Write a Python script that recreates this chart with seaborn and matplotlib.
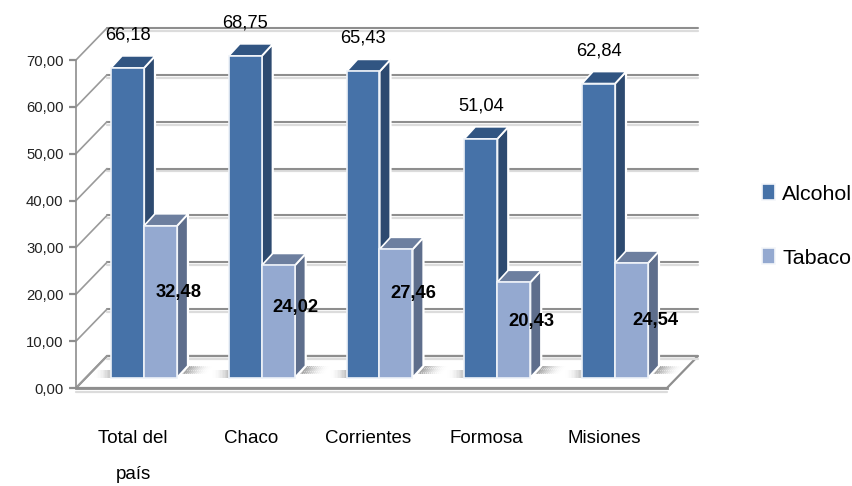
#!/usr/bin/env python3
"""Alcohol / tabaco por provincia, barras con falso 3D al estilo Excel."""

import pandas as pd
import seaborn as sns
import matplotlib
matplotlib.use("Agg")
import matplotlib.pyplot as plt
from matplotlib.patches import Polygon

CATEGORIES = ["Total del\npaís", "Chaco", "Corrientes", "Formosa", "Misiones"]
ALCOHOL = [66.18, 68.75, 65.43, 51.04, 62.84]
TABACO = [32.48, 24.02, 27.46, 20.43, 24.54]
Y_TICKS = [0, 10, 20, 30, 40, 50, 60, 70]

W, H = 852, 486
FONT = ["Liberation Sans", "DejaVu Sans"]

# pixel layout of the fake 3D box
LEFT, RIGHT, BOTTOM, TOP = 76, 667, 388, 60
WALL_DX, WALL_DY = 31, 32
BAR_DX, BAR_DY = 11, 10      # bars sit this far inside the floor
DEPTH_X, DEPTH_Y = 11, 12    # depth of each bar

# tabaco labels were dragged by hand in the original: offset from the bar top (px)
TABACO_LABEL_OFFSET = [(18, -67), (17, -42), (17, -44), (18, -39), (24, -57)]

COLORS = {
    "Alcohol": ("#4672A8", "#315582", "#2D4A70"),
    "Tabaco": ("#94A9D0", "#6D7F9F", "#5E6E8C"),
}
GRID = "#8E8E8E"
GRID_SHADOW = "#DCDCDC"


def main():
    sns.set_theme(style="white")
    plt.rcParams["font.family"] = FONT

    df = pd.DataFrame({
        "region": CATEGORIES * 2,
        "serie": ["Alcohol"] * 5 + ["Tabaco"] * 5,
        "valor": ALCOHOL + TABACO,
    })

    fig = plt.figure(figsize=(W / 100, H / 100), dpi=100)
    box = [LEFT / W, (H - BOTTOM) / H, (RIGHT - LEFT) / W, (BOTTOM - TOP) / H]
    ax = fig.add_axes(box)
    ax_bars = fig.add_axes([box[0] + BAR_DX / W, box[1] + BAR_DY / H, box[2], box[3]])

    xlim = (-0.484, 4.535)
    px_x = (xlim[1] - xlim[0]) / (RIGHT - LEFT)
    px_y = 70 / (BOTTOM - TOP)

    # ── Walls and floor ───────────────────────────────────────────────
    ax.set_xlim(xlim)
    ax.set_ylim(0, 70)
    wx, wy = WALL_DX * px_x, WALL_DY * px_y
    floor = [(xlim[0], 0), (xlim[1], 0), (xlim[1] + wx, wy), (xlim[0] + wx, wy)]
    ax.add_patch(Polygon(floor, closed=True, fc="white", ec=GRID, lw=1.6, clip_on=False))
    ax.plot([xlim[0], xlim[1]], [-0.9, -0.9], color=GRID_SHADOW, lw=1.6, clip_on=False)
    for v in Y_TICKS:
        ax.plot([xlim[0] + wx, xlim[1] + wx], [v + wy - 0.6] * 2, color=GRID_SHADOW,
                lw=1.6, clip_on=False, zorder=1)
        ax.plot([xlim[0] + wx, xlim[1] + wx], [v + wy] * 2, color=GRID,
                lw=1.5, clip_on=False, zorder=1.1)
        ax.plot([xlim[0], xlim[0] + wx], [v, v + wy], color="#9A9A9A",
                lw=1.2, clip_on=False, zorder=1.1)

    sns.despine(ax=ax, top=True, right=True)
    for side in ("left", "bottom"):
        ax.spines[side].set_color(GRID)
    ax.spines["left"].set_linewidth(1.2)
    ax.spines["bottom"].set_linewidth(2)
    ax.set_yticks(Y_TICKS)
    ax.set_yticklabels([f"{v:.2f}".replace(".", ",") for v in Y_TICKS], fontsize=10.7, color="#222222")
    ax.tick_params(axis="y", length=5, width=1.6, color=GRID, pad=4, left=True)
    ax.set_xticks(range(len(CATEGORIES)))
    ax.set_xticklabels(CATEGORIES, fontsize=13.5, color="black", linespacing=2.45)
    ax.tick_params(axis="x", length=0, pad=30)
    ax.set_xlabel("")
    ax.set_ylabel("")

    # ── Bars ───────────────────────────────────────────────────────────
    sns.barplot(data=df, x="region", y="valor", hue="serie", order=CATEGORIES,
                palette={k: v[0] for k, v in COLORS.items()}, width=0.56, gap=0,
                saturation=1, edgecolor="#EEF2F8", linewidth=1.2, ax=ax_bars)
    ax_bars.set_xlim(xlim)
    ax_bars.set_ylim(0, 70)
    ax_bars.patch.set_alpha(0)
    ax_bars.set_axis_off()

    dx, dy = DEPTH_X * px_x, DEPTH_Y * px_y
    for s, (serie, container) in enumerate(zip(COLORS, ax_bars.containers)):
        _, top_c, side_c = COLORS[serie]
        z = 3 + s
        for i, bar in enumerate(container):
            x0, x1, h = bar.get_x(), bar.get_x() + bar.get_width(), bar.get_height()
            side = [(x1, 0), (x1 + dx, dy), (x1 + dx, h + dy), (x1, h)]
            top = [(x0, h), (x1, h), (x1 + dx, h + dy), (x0 + dx, h + dy)]
            ax_bars.add_patch(Polygon(side, closed=True, fc=side_c, ec="white", lw=1.6,
                                      clip_on=False, zorder=z))
            ax_bars.add_patch(Polygon(top, closed=True, fc=top_c, ec="white", lw=1.2,
                                      clip_on=False, zorder=z))
            bar.set_zorder(z + 0.1)
            bar.set_clip_on(False)

            # soft floor shadow: right of the tabaco bar, left of the alcohol bar
            for k in range(12):
                a = 0.5 * (1 - k / 12) ** 2
                if serie == "Tabaco":
                    s0, s1 = x1 + dx + k * 2 * px_x, x1 + dx + (k + 1) * 2 * px_x
                    strip = [(s0 - dx * 0.5, dy * 0.4), (s1 - dx * 0.5, dy * 0.4), (s1, dy), (s0, dy)]
                else:
                    s0, s1 = x0 - k * 1.4 * px_x, x0 - (k + 1) * 1.4 * px_x
                    strip = [(s0, 0), (s1, 0), (s1, dy * 0.7), (s0, dy * 0.7)]
                ax_bars.add_patch(Polygon(strip, closed=True, fc="#888888", ec="none", alpha=a,
                                          antialiased=False, clip_on=False, zorder=1))

            xc = (x0 + x1) / 2
            if serie == "Alcohol":
                ax_bars.text(xc, h + 33 * px_y, f"{h:.2f}".replace(".", ","), fontsize=13.2,
                             ha="center", va="center", color="black", clip_on=False, zorder=8)
            else:
                ox, oy = TABACO_LABEL_OFFSET[i]
                ax_bars.text(xc + ox * px_x, h + oy * px_y, f"{h:.2f}".replace(".", ","), fontsize=13.2,
                             fontweight="bold", ha="center", va="center", color="black",
                             clip_on=False, zorder=8)

    # ── Legend ─────────────────────────────────────────────────────────
    handles, labels = ax_bars.get_legend_handles_labels()
    if ax_bars.get_legend():
        ax_bars.get_legend().remove()
    for h in handles:
        h.set_edgecolor("#F4F6FA")
    fig.legend(handles, labels, loc="center left", bbox_to_anchor=(762 / W, 1 - 226 / H),
               frameon=False, fontsize=15.4, labelcolor="black", handlelength=0.6, handleheight=0.75,
               handletextpad=0.35, labelspacing=2.1, borderpad=0, borderaxespad=0)

    fig.savefig("out.png", dpi=100)
    plt.close(fig)


if __name__ == "__main__":
    main()
